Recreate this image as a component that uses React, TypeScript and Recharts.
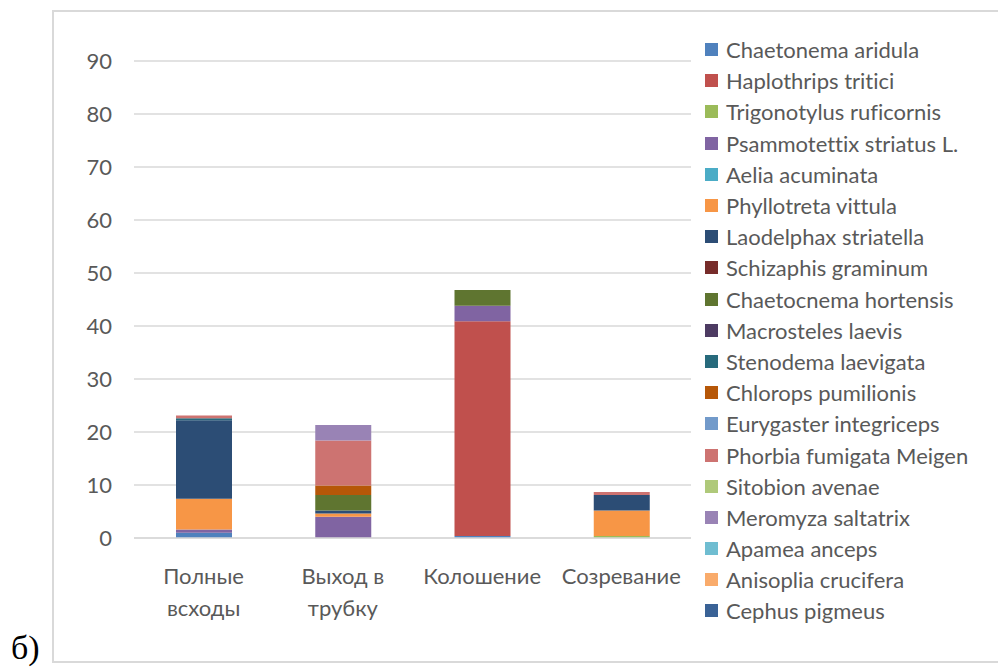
import React from "react";
import { BarChart, Bar, XAxis, YAxis, CartesianGrid, Legend } from "recharts";

const categories = ["Полные всходы", "Выход в трубку", "Колошение", "Созревание"];
const yTicks = [0, 10, 20, 30, 40, 50, 60, 70, 80, 90];

const seriesNames = [
  "Chaetonema aridula",
  "Haplothrips tritici",
  "Trigonotylus ruficornis",
  "Psammotettix striatus L.",
  "Aelia acuminata",
  "Phyllotreta vittula",
  "Laodelphax striatella",
  "Schizaphis graminum",
  "Chaetocnema hortensis",
  "Macrosteles laevis",
  "Stenodema laevigata",
  "Chlorops pumilionis",
  "Eurygaster integriceps",
  "Phorbia fumigata Meigen",
  "Sitobion avenae",
  "Meromyza saltatrix",
  "Apamea anceps",
  "Anisoplia crucifera",
  "Cephus pigmeus",
];

const seriesColors = [
  "#4F81BD", "#C0504D", "#9BBB59", "#8064A2", "#4BACC6", "#F79646",
  "#2C4D75", "#772C2A", "#5F7530", "#4D3B62", "#276A7C", "#B65708",
  "#729ACA", "#CD7371", "#AFC97A", "#9983B5", "#6FBDD1", "#F9AB6B",
  "#3A6296",
];

const chaetonemaAridula = [1.0, 0, 0.4, 0];
const haplothripsTritici = [0, 0, 40.5, 0];
const trigonotylusRuficornis = [0, 0, 0, 0.4];
const psammotettixStriatus = [0.6, 4.0, 2.9, 0];
const aeliaAcuminata = [0, 0, 0, 0];
const phyllotretaVittula = [5.8, 0.6, 0, 4.8];
const laodelphaxStriatella = [14.8, 0.6, 0, 2.9];
const schizaphisGraminum = [0, 0, 0, 0];
const chaetocnemaHortensis = [0, 2.9, 3.0, 0];
const macrostelesLaevis = [0, 0, 0, 0];
const stenodemaLaevigata = [0.4, 0, 0, 0];
const chloropsPumilionis = [0, 1.8, 0, 0];
const eurygasterIntegriceps = [0, 0, 0, 0];
const phorbiaFumigata = [0.5, 8.5, 0, 0.6];
const sitobionAvenae = [0, 0, 0, 0];
const meromyzaSaltatrix = [0, 2.9, 0, 0];
const apameaAnceps = [0, 0, 0, 0];
const anisopliaCrucifera = [0, 0, 0, 0];
const cephusPigmeus = [0, 0, 0, 0];

const seriesValues = [
  chaetonemaAridula, haplothripsTritici, trigonotylusRuficornis, psammotettixStriatus,
  aeliaAcuminata, phyllotretaVittula, laodelphaxStriatella, schizaphisGraminum,
  chaetocnemaHortensis, macrostelesLaevis, stenodemaLaevigata, chloropsPumilionis,
  eurygasterIntegriceps, phorbiaFumigata, sitobionAvenae, meromyzaSaltatrix,
  apameaAnceps, anisopliaCrucifera, cephusPigmeus,
];

const data = categories.map((c, i) => {
  const row: Record<string, string | number> = { name: c };
  seriesNames.forEach((s, j) => {
    row["s" + j] = seriesValues[j][i];
  });
  return row;
});

const FONT = "Lato, 'Open Sans', sans-serif";
const TEXT = "#595959";

function wrap(label: string, maxChars: number): string[] {
  const words = label.split(" ");
  const lines: string[] = [];
  let cur = "";
  for (const w of words) {
    const next = cur ? cur + " " + w : w;
    if (next.length > maxChars && cur) {
      lines.push(cur);
      cur = w;
    } else {
      cur = next;
    }
  }
  if (cur) lines.push(cur);
  return lines;
}

const XTick = (props: any) => {
  const { x, y, payload } = props;
  const lines = wrap(String(payload.value), 10);
  return (
    <text x={x} y={y + 46} textAnchor="middle" fill={TEXT} fontSize={22} fontFamily={FONT}>
      {lines.map((l, i) => (
        <tspan key={i} x={x} dy={i === 0 ? 0 : 32}>
          {l}
        </tspan>
      ))}
    </text>
  );
};

const LegendContent = () => (
  <div style={{ fontFamily: FONT, fontSize: 22, color: TEXT, fontVariantLigatures: "none" }}>
    {seriesNames.map((n, i) => (
      <div key={n} style={{ height: 31.2, display: "flex", alignItems: "center", whiteSpace: "nowrap" }}>
        <span style={{ display: "inline-block", width: 13, height: 13, background: seriesColors[i], marginRight: 8 }} />
        <span>{n}</span>
      </div>
    ))}
  </div>
);

export default function App() {
  return (
    <div style={{ position: "absolute", left: 0, top: 0, width: 998, height: 668, background: "#fff", overflow: "hidden" }}>
      <div
        style={{
          position: "absolute",
          left: 52,
          top: 10,
          width: 960,
          height: 653,
          border: "2px solid #D9D9D9",
          boxSizing: "border-box",
        }}
      />
      <div style={{ position: "absolute", left: 53, top: 11 }}>
        <BarChart width={940} height={651} data={data} margin={{ top: 50, right: 302, bottom: 0, left: 0 }} barSize={56}>
          <CartesianGrid vertical={false} stroke="#D9D9D9" strokeWidth={1.5} />
          <XAxis
            dataKey="name"
            height={124}
            tickLine={false}
            axisLine={{ stroke: "#D9D9D9", strokeWidth: 1.5 }}
            tickSize={0}
            tickMargin={0}
            interval={0}
            tick={<XTick />}
          />
          <YAxis
            width={81}
            domain={[0, 90]}
            ticks={yTicks}
            axisLine={false}
            tickLine={false}
            tickSize={0}
            tickMargin={22}
            tick={{ fill: TEXT, fontSize: 22, fontFamily: FONT }}
          />
          <Legend
            layout="vertical"
            align="center"
            verticalAlign="middle"
            content={<LegendContent />}
            wrapperStyle={{ left: 652, top: 23, width: 300 }}
          />
          {seriesNames.map((n, j) => (
            <Bar key={n} dataKey={"s" + j} name={n} stackId="a" fill={seriesColors[j]} isAnimationActive={false} />
          ))}
        </BarChart>
      </div>
      <div
        style={{
          position: "absolute",
          left: 11,
          top: 629,
          fontFamily: "'Liberation Serif', 'DejaVu Serif', serif",
          fontSize: 34,
          color: "#000",
          lineHeight: "38px",
        }}
      >
        б)
      </div>
    </div>
  );
}
